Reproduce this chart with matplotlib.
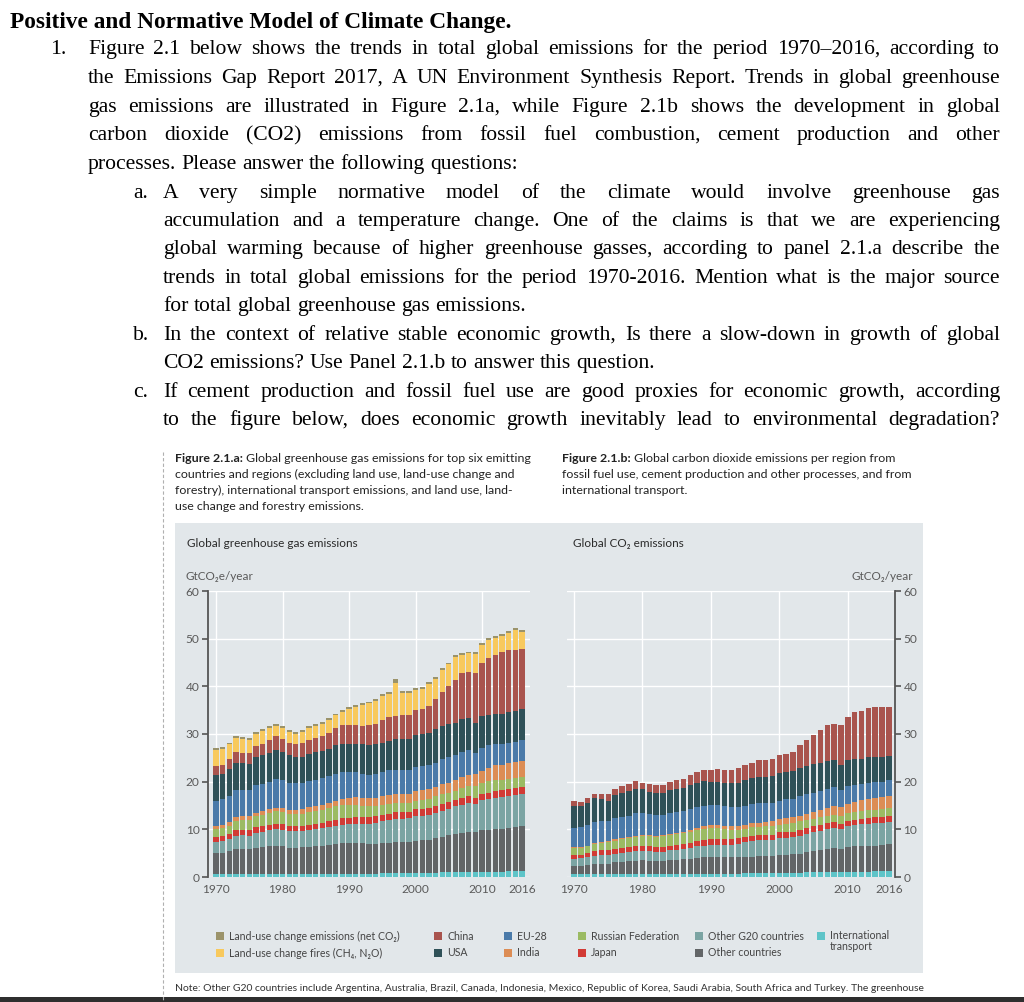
import matplotlib
matplotlib.use('Agg')
import matplotlib.pyplot as plt
import numpy as np
from matplotlib.patches import Rectangle
from matplotlib.lines import Line2D

# ---------------- data ----------------
years = list(range(1970, 2017))
xtick_years = [1970, 1980, 1990, 2000, 2010, 2016]
ytick_vals = [0, 10, 20, 30, 40, 50, 60]

# Panel a: global greenhouse gas emissions (GtCO2e/year), bottom -> top
ghg_transport = [0.6,0.6,0.6,0.7,0.7,0.6,0.6,0.7,0.7,0.7, 0.7,0.6,0.6,0.6,0.6,0.6,0.6,0.6,0.7,0.7,
                 0.7,0.7,0.7,0.7,0.7,0.8,0.8,0.8,0.8,0.8, 0.9,0.9,0.9,0.9,1.0,1.0,1.0,1.1,1.1,1.0,
                 1.1,1.1,1.1,1.1,1.2,1.2,1.2]
ghg_other = [4.4,4.5,4.8,5.1,5.1,5.2,5.5,5.5,5.8,5.9, 5.8,5.5,5.5,5.7,5.7,5.9,6.0,6.1,6.2,6.4,
             6.4,6.4,6.4,6.2,6.3,6.3,6.4,6.5,6.5,6.6, 6.7,6.8,6.9,7.2,7.4,7.8,8.0,8.1,8.4,8.4,
             8.7,8.8,8.9,9.0,9.1,9.3,9.4]
ghg_g20 = [2.3,2.5,2.6,2.9,3.0,2.9,3.2,3.3,3.3,3.4, 3.4,3.5,3.5,3.3,3.5,3.5,3.6,3.8,3.9,3.9,
           4.0,4.1,4.1,4.3,4.4,4.6,4.7,4.9,4.9,4.9, 5.2,5.1,5.2,5.3,5.5,5.5,5.8,6.0,6.0,5.9,
           6.3,6.5,6.6,6.7,6.7,6.7,6.8]
ghg_japan = [1.0,0.9,1.0,1.1,1.1,1.1,1.2,1.2,1.2,1.2, 1.2,1.2,1.2,1.2,1.2,1.2,1.2,1.2,1.2,1.3,
             1.3,1.3,1.3,1.3,1.3,1.3,1.4,1.4,1.4,1.4, 1.4,1.4,1.4,1.4,1.4,1.4,1.4,1.4,1.4,1.3,
             1.3,1.3,1.4,1.4,1.4,1.4,1.4]
ghg_russia = [1.8,1.8,1.8,1.9,2.0,2.2,2.2,2.4,2.5,2.6, 2.6,2.5,2.4,2.5,2.6,2.6,2.7,2.7,2.8,2.8,
              2.8,2.6,2.4,2.3,2.1,2.1,2.1,1.9,1.9,1.9, 1.8,2.0,2.0,2.1,2.1,1.9,1.9,2.0,2.2,2.4,
              2.3,2.4,2.3,2.2,2.2,2.1,2.2]
ghg_india = [0.7,0.6,0.7,0.8,0.8,0.8,0.7,0.7,0.7,0.7, 0.8,0.8,0.9,1.0,1.0,1.1,1.1,1.2,1.2,1.3,
             1.4,1.6,1.7,1.7,1.8,1.9,1.9,1.9,1.9,1.9, 2.0,2.0,2.0,2.0,2.1,2.2,2.2,2.4,2.4,2.6,
             2.6,2.8,3.1,3.2,3.3,3.4,3.4]
ghg_eu = [5.2,5.5,5.5,5.7,5.6,5.5,5.9,5.8,5.8,6.1, 5.9,5.7,5.7,5.5,5.5,5.5,5.5,5.6,5.6,5.6,
          5.5,5.3,5.1,5.0,5.0,5.0,5.1,5.0,5.0,4.9, 5.0,5.0,5.0,5.1,5.2,5.3,5.3,5.3,5.1,4.5,
          4.8,4.7,4.4,4.4,4.2,4.3,4.4]
ghg_usa = [5.5,5.3,5.6,5.8,5.7,5.5,5.8,6.0,6.1,6.0, 5.8,5.8,5.4,5.4,5.7,5.8,5.7,5.7,6.0,6.0,
           5.9,6.0,6.1,6.1,6.2,6.2,6.2,6.6,6.6,6.6, 6.8,6.7,6.8,7.0,7.0,6.9,6.7,6.8,6.7,6.3,
           6.7,6.4,6.4,6.3,6.5,6.5,6.4]
ghg_china = [1.8,1.9,2.2,2.2,2.1,2.2,2.3,2.4,2.7,2.9, 2.8,2.6,2.6,2.9,3.0,2.9,3.2,3.4,3.6,3.9,
             3.8,3.8,3.8,4.2,4.3,4.7,4.9,4.8,4.9,5.0, 5.2,5.4,5.7,6.4,7.1,8.1,9.1,9.6,9.8,10.4,
             11.0,12.0,12.3,12.9,13.0,12.7,12.7]
ghg_luc_fires = [3.4,3.2,3.0,2.9,2.8,2.8,2.6,2.6,2.4,2.1, 2.2,2.2,2.3,2.4,2.4,2.5,2.6,2.6,2.7,2.7,
                 3.4,3.9,4.4,4.6,4.8,5.0,4.9,7.0,4.8,4.6, 4.2,4.2,4.6,4.2,4.6,4.5,4.8,3.8,3.8,4.0,
                 3.8,3.8,3.6,3.4,3.6,4.2,3.5]
ghg_luc_co2 = [0.4,0.4,0.4,0.4,0.4,0.4,0.4,0.4,0.4,0.4, 0.4,0.4,0.4,0.4,0.4,0.4,0.4,0.4,0.4,0.4,
               0.4,0.4,0.4,0.4,0.4,0.4,0.4,0.7,0.4,0.4, 0.4,0.4,0.4,0.4,0.4,0.4,0.4,0.4,0.4,0.4,
               0.4,0.4,0.4,0.4,0.4,0.4,0.4]

# Panel b: global CO2 emissions (GtCO2/year), bottom -> top
co2_transport = ghg_transport
co2_other = [1.8,1.8,2.0,2.1,2.1,2.2,2.5,2.4,2.6,2.7, 2.8,2.8,2.8,2.8,2.9,3.0,3.1,3.2,3.3,3.4,
             3.5,3.5,3.5,3.4,3.4,3.4,3.5,3.6,3.6,3.6, 3.7,3.8,3.9,4.0,4.2,4.4,4.6,4.8,5.0,4.9,
             5.1,5.3,5.4,5.5,5.4,5.5,5.7]
co2_g20 = [1.4,1.5,1.5,1.7,1.8,1.8,1.8,2.0,2.0,2.1, 2.0,2.0,1.9,1.9,2.1,2.1,2.2,2.3,2.4,2.5,
           2.5,2.6,2.6,2.7,2.9,3.1,3.2,3.3,3.3,3.4, 3.6,3.5,3.5,3.8,3.9,4.0,4.1,4.2,4.2,4.2,
           4.5,4.5,4.6,4.6,4.7,4.7,4.6]
co2_japan = [0.8,0.8,0.9,1.0,1.0,1.0,1.0,1.0,1.0,1.0, 1.0,1.0,1.0,1.0,1.0,1.0,1.0,1.1,1.1,1.1,
             1.2,1.2,1.2,1.2,1.2,1.1,1.1,1.1,1.1,1.1, 1.2,1.2,1.2,1.2,1.2,1.2,1.2,1.2,1.2,1.1,
             1.1,1.1,1.1,1.2,1.2,1.2,1.2]
co2_russia = [1.4,1.4,1.4,1.4,1.5,1.7,1.7,1.8,1.8,1.9, 2.0,2.1,2.1,2.2,2.2,2.3,2.3,2.3,2.3,2.4,
              2.4,2.2,2.0,1.9,1.6,1.7,1.8,1.7,1.8,1.8, 1.6,1.8,1.8,1.8,1.7,1.6,1.6,1.6,1.6,1.7,
              1.7,1.7,1.7,1.6,1.6,1.6,1.7]
co2_india = [0.2,0.2,0.2,0.3,0.3,0.3,0.3,0.3,0.3,0.3, 0.3,0.3,0.3,0.3,0.3,0.3,0.3,0.3,0.4,0.5,
             0.6,0.8,0.8,0.8,0.9,0.9,0.9,0.9,1.0,1.0, 1.2,1.2,1.2,1.2,1.3,1.4,1.5,1.6,1.7,1.7,
             1.9,2.1,2.3,2.4,2.5,2.5,2.5]
co2_eu = [4.1,4.2,4.3,4.4,4.4,4.1,4.5,4.4,4.5,4.8, 4.7,4.4,4.3,4.2,4.4,4.3,4.4,4.4,4.4,4.3,
          4.2,4.2,4.1,3.9,3.9,3.9,4.0,4.1,3.9,3.8, 3.8,3.9,3.9,4.1,4.1,4.1,4.0,4.0,4.0,3.6,
          3.6,3.5,3.4,3.4,3.3,3.3,3.4]
co2_usa = [4.7,4.3,4.6,4.9,4.5,4.3,4.8,5.1,5.1,5.0, 4.9,4.7,4.6,4.6,4.7,4.8,4.7,5.0,5.2,5.2,
           4.9,4.8,4.9,5.1,5.2,5.4,5.5,5.4,5.5,5.6, 5.9,5.7,5.8,5.8,5.9,6.0,5.9,5.8,5.7,5.3,
           5.6,5.4,5.2,5.3,5.3,5.2,5.0]
co2_china = [0.9,0.9,1.1,1.0,1.1,1.4,1.2,1.3,1.6,1.7, 1.4,1.6,1.6,1.8,1.8,1.9,2.0,2.1,2.3,2.4,
             2.5,2.7,2.6,2.8,3.0,3.3,3.2,3.6,3.6,3.7, 3.7,3.9,4.1,4.8,5.5,6.1,6.9,7.6,7.7,8.3,
             9.0,9.9,10.0,10.3,10.5,10.4,10.4]

series_names = ["International transport", "Other countries", "Other G20 countries", "Japan",
                "Russian Federation", "India", "EU-28", "USA", "China",
                "Land-use change fires (CH\u2084, N\u2082O)", "Land-use change emissions (net CO\u2082)"]
series_colors = ["#5ec4c8", "#626567", "#7ba4a3", "#d23b35", "#9bbb63", "#dc8d55",
                 "#4a7aa9", "#2f5158", "#a9544e", "#f8c95d", "#9b936a"]

ghg_series = [ghg_transport, ghg_other, ghg_g20, ghg_japan, ghg_russia, ghg_india,
              ghg_eu, ghg_usa, ghg_china, ghg_luc_fires, ghg_luc_co2]
co2_series = [co2_transport, co2_other, co2_g20, co2_japan, co2_russia, co2_india,
              co2_eu, co2_usa, co2_china]

# ---------------- layout helpers ----------------
W, H = 1024, 1002
fig = plt.figure(figsize=(W / 100, H / 100), dpi=100)
fig.patch.set_facecolor('white')
SANS = ['Lato', 'DejaVu Sans']
SERIF = ['Liberation Serif', 'DejaVu Serif']
plt.rcParams['font.family'] = SANS
renderer = fig.canvas.get_renderer()


def fx(x):
    return x / W


def fy(y):
    return 1 - y / H


def measure(txt, size, family, weight='normal'):
    t = fig.text(0, 0, txt, fontsize=size, family=family, weight=weight)
    w = t.get_window_extent(renderer).width
    t.remove()
    return w


def line_text(x0, x1, y, line, size, family, justify=True, weight='normal', color='black'):
    words = line.split(' ')
    widths = [measure(w, size, family, weight) for w in words]
    space = measure('x x', size, family, weight) - measure('xx', size, family, weight)
    if justify and len(words) > 1:
        gap = (x1 - x0 - sum(widths)) / (len(words) - 1)
    else:
        gap = space
    cx = x0
    for w, wd in zip(words, widths):
        fig.text(fx(cx), fy(y), w, fontsize=size, family=family, weight=weight,
                 color=color, va='baseline', ha='left')
        cx += wd + gap


def runs_text(x0, y, runs, size, family, color='#222222'):
    space = measure('x x', size, family) - measure('xx', size, family)
    cx = x0
    for txt, wt in runs:
        fig.text(fx(cx), fy(y), txt, fontsize=size, family=family, weight=wt,
                 color=color, va='baseline', ha='left')
        cx += measure(txt, size, family, wt) + space


# ---------------- body text ----------------
BODY = 15.6
fig.text(fx(10), fy(28), "Positive and Normative Model of Climate Change.", fontsize=16.8,
         family=SERIF, weight='bold', va='baseline')

R = 1000
fig.text(fx(50), fy(54), "1.", fontsize=BODY, family=SERIF, va='baseline')
main_lines = [
    ("Figure 2.1 below shows the trends in total global emissions for the period 1970\u20132016, according to", True),
    ("the Emissions Gap Report 2017, A UN Environment Synthesis Report. Trends in global greenhouse", True),
    ("gas emissions are illustrated in Figure 2.1a, while Figure 2.1b shows the development in global", True),
    ("carbon dioxide (CO2) emissions from fossil fuel combustion, cement production and other", True),
    ("processes. Please answer the following questions:", False),
]
base = [54, 83, 112, 140, 169]
for (ln, j), b in zip(main_lines, base):
    line_text(88, R, b, ln, BODY, SERIF, justify=j)

sub = [
    ("a.", [("A very simple normative model of the climate would involve greenhouse gas", True),
            ("accumulation and a temperature change. One of the claims is that we are experiencing", True),
            ("global warming because of higher greenhouse gasses, according to panel 2.1.a describe the", True),
            ("trends in total global emissions for the period 1970-2016. Mention what is the major source", True),
            ("for total global greenhouse gas emissions.", False)], [198, 226, 254, 283, 311]),
    ("b.", [("In the context of relative stable economic growth, Is there a slow-down in growth of global", True),
            ("CO2 emissions? Use Panel 2.1.b to answer this question.", False)], [340, 368]),
    ("c.", [("If cement production and fossil fuel use are good proxies for economic growth, according", True),
            ("to the figure below, does economic growth inevitably lead to environmental degradation?", True)], [397, 425]),
]
for lab, lines, bases in sub:
    fig.text(fx(133), fy(bases[0]), lab, fontsize=BODY, family=SERIF, va='baseline')
    for (ln, j), b in zip(lines, bases):
        line_text(163, R, b, ln, BODY, SERIF, justify=j)

# ---------------- figure captions ----------------
CAP = 8.9
runs_text(175, 462, [("Figure 2.1.a:", 'bold'), ("Global greenhouse gas emissions for top six emitting", 'normal')], CAP, SANS)
for txt, b in [("countries and regions (excluding land use, land-use change and", 478),
               ("forestry), international transport emissions, and land use, land-", 494),
               ("use change and forestry emissions.", 510)]:
    runs_text(175, b, [(txt, 'normal')], CAP, SANS)
runs_text(562, 462, [("Figure 2.1.b:", 'bold'), ("Global carbon dioxide emissions per region from", 'normal')], CAP, SANS)
for txt, b in [("fossil fuel use, cement production and other processes, and from", 478),
               ("international transport.", 494)]:
    runs_text(562, b, [(txt, 'normal')], CAP, SANS)

# dashed guide line and grey panel
fig.add_artist(Line2D([fx(163), fx(163)], [fy(452), fy(1002)], color='#b0b0b0', lw=0.8,
                      dashes=(3, 2), transform=fig.transFigure))
fig.add_artist(Rectangle((fx(175), fy(973)), (923 - 175) / W, (973 - 523) / H,
                         transform=fig.transFigure, facecolor='#e2e7ea', edgecolor='none', zorder=-10))

# ---------------- charts ----------------
TICK_C = '#5a5a5a'
TICK_FS = 8.6


def stacked(ax, series, colors):
    bottom = np.zeros(len(years))
    for vals, c in zip(series, colors):
        ax.bar(years, vals, width=0.8, bottom=bottom, color=c, edgecolor='none', zorder=2)
        bottom = bottom + np.array(vals)


def style(ax, side):
    ax.set_facecolor('none')
    ax.set_ylim(0, 60)
    ax.set_yticks(ytick_vals)
    ax.set_xticks(xtick_years)
    ax.set_xticklabels([str(y) for y in xtick_years])
    ax.yaxis.grid(True, color='white', lw=1.0, zorder=0)
    for yr in xtick_years[:-1]:
        ax.axvline(yr, color='white', lw=1.0, zorder=0)
    for s in ax.spines.values():
        s.set_visible(False)
    sp = ax.spines[side]
    sp.set_visible(True)
    sp.set_color('#555555')
    sp.set_linewidth(1.3)
    if side == 'right':
        ax.yaxis.tick_right()
    ax.tick_params(axis='y', length=4, width=1.2, color='#555555', labelcolor=TICK_C,
                   labelsize=TICK_FS, pad=2)
    ax.tick_params(axis='x', length=0, labelcolor=TICK_C, labelsize=TICK_FS, pad=5)


ax1 = fig.add_axes([fx(208), fy(877), (530 - 208) / W, (877 - 591) / H])
stacked(ax1, ghg_series, series_colors)
ax1.set_xlim(1968.8, 2017.2)
style(ax1, 'left')

ax2 = fig.add_axes([fx(566.5), fy(877), (895 - 566.5) / W, (877 - 591) / H])
stacked(ax2, co2_series, series_colors[:len(co2_series)])
ax2.set_xlim(1968.9, 2016.9)
style(ax2, 'right')

fig.text(fx(187), fy(547), "Global greenhouse gas emissions", fontsize=8.5, color='#2a2a2a', va='baseline')
fig.text(fx(186), fy(580), "GtCO\u2082e/year", fontsize=8.5, color=TICK_C, va='baseline')
fig.text(fx(573), fy(547), "Global CO\u2082 emissions", fontsize=8.5, color='#2a2a2a', va='baseline')
fig.text(fx(913), fy(580), "GtCO\u2082/year", fontsize=8.5, color=TICK_C, va='baseline', ha='right')

# ---------------- legend ----------------
LEG = 7.6
legend_items = [
    (10, 216, 936), (9, 216, 953),
    (8, 434, 936), (7, 434, 953),
    (6, 504, 936), (5, 504, 953),
    (4, 578, 936), (3, 578, 953),
    (2, 695, 936), (1, 695, 953),
    (0, 817, 936),
]
for idx, x, y in legend_items:
    fig.add_artist(Rectangle((fx(x), fy(y + 4)), 8 / W, 8 / H, transform=fig.transFigure,
                             facecolor=series_colors[idx], edgecolor='none'))
    name = series_names[idx]
    if idx == 0:
        name = "International\ntransport"
        fig.text(fx(x + 13), fy(y - 6), name, fontsize=LEG, color='#444444', va='top',
                 ha='left', linespacing=1.0)
    else:
        fig.text(fx(x + 13), fy(y), name, fontsize=LEG, color='#444444', va='center', ha='left')

# ---------------- note ----------------
fig.text(fx(175), fy(991), "Note: Other G20 countries include Argentina, Australia, Brazil, Canada, Indonesia, "
         "Mexico, Republic of Korea, Saudi Arabia, South Africa and Turkey. The greenhouse",
         fontsize=7.45, color='#333333', va='baseline')
fig.add_artist(Rectangle((0, 0), 1, 5 / H, transform=fig.transFigure, facecolor='#2e2e2e',
                         edgecolor='none'))

fig.savefig('out.png', dpi=100)
